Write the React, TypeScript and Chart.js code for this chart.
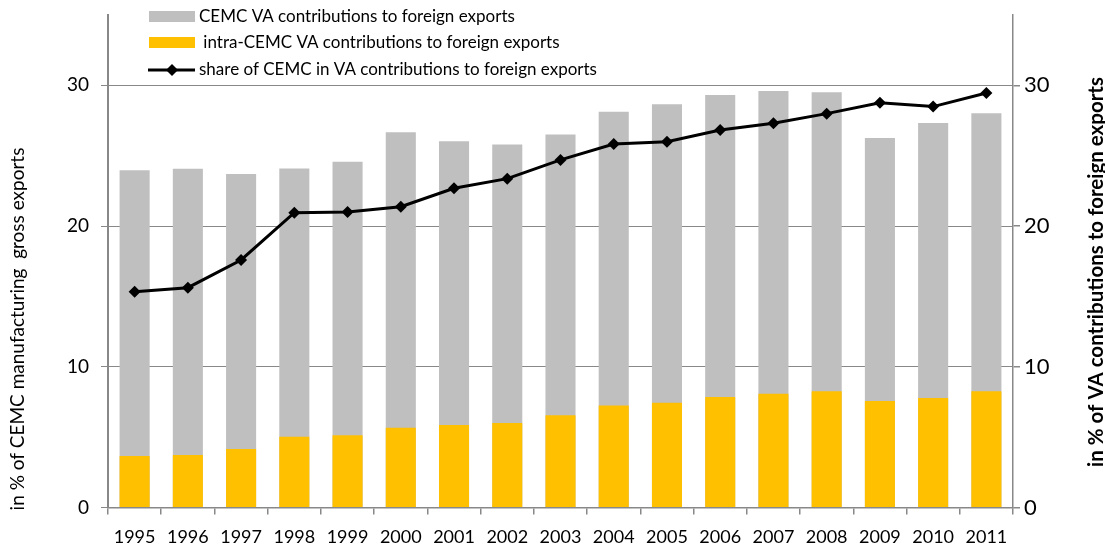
import React, { useEffect, useRef } from "react";
import { Chart, registerables } from "chart.js";

Chart.register(...registerables);

const years = ["1995","1996","1997","1998","1999","2000","2001","2002","2003","2004","2005","2006","2007","2008","2009","2010","2011"];
const cemcVA = [23.97, 24.07, 23.7, 24.1, 24.57, 26.67, 26.03, 25.79, 26.5, 28.13, 28.66, 29.32, 29.6, 29.51, 26.26, 27.33, 28.02];
const intraCemcVA = [3.66, 3.73, 4.16, 5.03, 5.13, 5.67, 5.86, 6.0, 6.55, 7.24, 7.45, 7.85, 8.09, 8.26, 7.57, 7.78, 8.26];
const shareCemc = [15.34, 15.62, 17.59, 20.95, 21.0, 21.38, 22.69, 23.37, 24.7, 25.83, 26.0, 26.83, 27.3, 27.99, 28.77, 28.49, 29.46];
const yTicks = [0, 10, 20, 30];

const labelCemc = "CEMC VA contributions to foreign exports";
const labelIntra = " intra-CEMC VA contributions to foreign exports";
const labelShare = "share of CEMC in VA contributions to foreign exports";
const leftTitle = "in % of CEMC manufacturing  gross exports";
const rightTitle = "in % of VA contributions to foreign exports";

const FONT = "Lato, 'Open Sans', sans-serif";
const GRID = "#888888";

const overlayPlugin = {
  id: "overlay",
  afterDraw(chart: any) {
    const ctx = chart.ctx as CanvasRenderingContext2D;
    ctx.save();
    // legend
    ctx.font = `17px ${FONT}`;
    ctx.textBaseline = "middle";
    ctx.textAlign = "left";
    ctx.fillStyle = "#BFBFBF";
    ctx.fillRect(149, 11, 46, 11);
    ctx.fillStyle = "#FFC000";
    ctx.fillRect(149, 37, 46, 11);
    ctx.strokeStyle = "#000";
    ctx.lineWidth = 3;
    ctx.beginPath();
    ctx.moveTo(148, 70);
    ctx.lineTo(195, 70);
    ctx.stroke();
    ctx.fillStyle = "#000";
    ctx.beginPath();
    ctx.moveTo(172, 64);
    ctx.lineTo(178, 70);
    ctx.lineTo(172, 76);
    ctx.lineTo(166, 70);
    ctx.closePath();
    ctx.fill();
    ctx.fillText(labelCemc, 199, 17);
    ctx.fillText(labelIntra, 199, 43);
    ctx.fillText(labelShare, 199, 70);
    // axis titles
    ctx.textAlign = "center";
    ctx.save();
    ctx.translate(18, 329);
    ctx.rotate(-Math.PI / 2);
    ctx.font = `19px ${FONT}`;
    ctx.fillText(leftTitle, 0, 0);
    ctx.restore();
    ctx.save();
    ctx.translate(1096, 272);
    ctx.rotate(-Math.PI / 2);
    ctx.font = `bold 20.5px ${FONT}`;
    ctx.fillText(rightTitle, 0, 0);
    ctx.restore();
    ctx.restore();
  },
};

export default function App() {
  const ref = useRef<HTMLCanvasElement | null>(null);
  useEffect(() => {
    if (!ref.current) return;
    const noPad = (s: any) => { s.paddingTop = 0; s.paddingBottom = 0; };
    const chart = new Chart(ref.current, {
      type: "bar",
      data: {
        labels: years,
        datasets: [
          {
            type: "line",
            label: labelShare,
            data: shareCemc,
            yAxisID: "y2",
            borderColor: "#000",
            backgroundColor: "#000",
            borderWidth: 3,
            pointStyle: "rectRot",
            pointRadius: 6,
            pointBackgroundColor: "#000",
            pointBorderWidth: 0,
            order: 0,
          } as any,
          {
            label: labelIntra,
            data: intraCemcVA,
            yAxisID: "y",
            backgroundColor: "#FFC000",
            grouped: false,
            barPercentage: 0.565,
            categoryPercentage: 1,
            order: 1,
          },
          {
            label: labelCemc,
            data: cemcVA,
            yAxisID: "y",
            backgroundColor: "#BFBFBF",
            grouped: false,
            barPercentage: 0.565,
            categoryPercentage: 1,
            order: 2,
          },
        ],
      },
      options: {
        animation: false,
        responsive: true,
        maintainAspectRatio: false,
        layout: { padding: { top: 15, left: 0, right: 0, bottom: 0 } },
        plugins: { legend: { display: false }, tooltip: { enabled: false } },
        scales: {
          x: {
            grid: { offset: true, drawOnChartArea: false, drawTicks: true, tickLength: 7, color: GRID, lineWidth: 1.5 },
            border: { color: GRID, width: 1.5 },
            ticks: { color: "#000", font: { family: FONT, size: 18 }, padding: 12, maxRotation: 0, autoSkip: false },
            afterFit: (s: any) => { s.height = 42.5; s.paddingLeft = 0; s.paddingRight = 0; },
          },
          y: {
            position: "left",
            min: 0,
            max: 35,
            afterBuildTicks: (s: any) => { s.ticks = yTicks.map((v) => ({ value: v })); },
            grid: { color: GRID, lineWidth: 1, tickLength: 7 },
            border: { color: GRID, width: 2 },
            ticks: { color: "#000", font: { family: FONT, size: 19 }, padding: 12 },
            afterFit: (s: any) => { s.width = 108; noPad(s); },
          },
          y2: {
            position: "right",
            min: 0,
            max: 35,
            afterBuildTicks: (s: any) => { s.ticks = yTicks.map((v) => ({ value: v })); },
            grid: { color: GRID, lineWidth: 1.5, tickLength: 7, drawOnChartArea: false },
            border: { color: GRID, width: 1.5 },
            ticks: { color: "#000", font: { family: FONT, size: 22 }, padding: 4 },
            afterFit: (s: any) => { s.width = 92; noPad(s); },
          },
        },
      },
      plugins: [overlayPlugin],
    });
    return () => chart.destroy();
  }, []);
  return (
    <div style={{ position: "fixed", left: 0, top: 0, width: 1105, height: 550 }}>
      <canvas ref={ref} />
    </div>
  );
}
